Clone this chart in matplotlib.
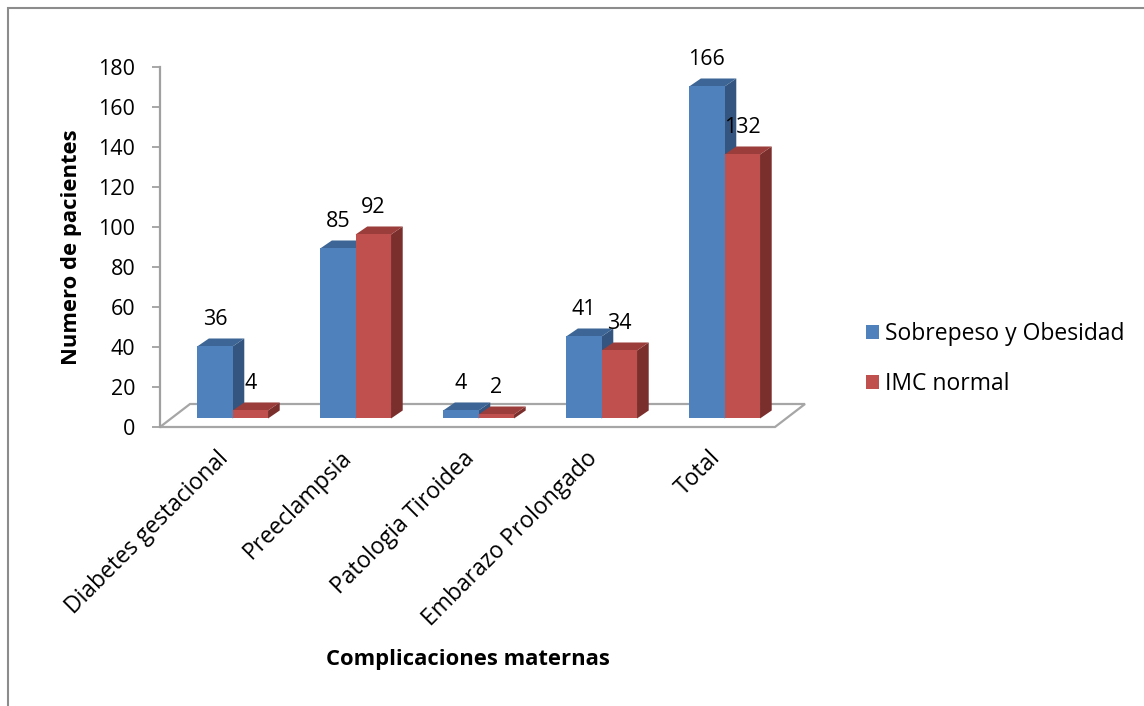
import matplotlib
matplotlib.use("Agg")
import matplotlib.pyplot as plt
from matplotlib.patches import Polygon, Rectangle

# Data
categories = ["Diabetes gestacional", "Preeclampsia", "Patologia Tiroidea",
              "Embarazo Prolongado", "Total"]
sobrepeso_obesidad = [36, 85, 4, 41, 166]
imc_normal = [4, 92, 2, 34, 132]
series_names = ["Sobrepeso y Obesidad", "IMC normal"]
y_ticks = [0, 20, 40, 60, 80, 100, 120, 140, 160, 180]

plt.rcParams['font.family'] = ['Open Sans', 'DejaVu Sans']
FS_NUM = 15.5     # numbers (ticks, value labels)
FS_TXT = 16.5     # words (categories, legend)
FS_TITLE = 15.8   # bold axis titles

W, H, DPI = 1144, 706, 100
fig = plt.figure(figsize=(W / DPI, H / DPI), dpi=DPI)
ax = fig.add_axes([160 / W, 1 - 427 / H, 615 / W, 360 / H])
n = len(categories)
ax.set_xlim(-0.5, n - 0.5)
ax.set_ylim(0, 180)

# pseudo-3D geometry (data units)
FLOOR_DX, FLOOR_DY = 0.244, 11.5      # depth of the floor
F0 = 0.37                             # where the bars sit within the floor depth
BAR_W = 0.288
BAR_DX, BAR_DY = 0.095, 4.0           # depth of each bar

front_colors = ["#4F81BD", "#C0504D"]
top_colors = ["#3D6696", "#9B3D3A"]
side_colors = ["#34557F", "#7B2F2D"]
edge_gray = "#A6A6A6"

# floor
x0, x1 = -0.5, n - 0.5
floor = Polygon([(x0, 0), (x1, 0), (x1 + FLOOR_DX, FLOOR_DY), (x0 + FLOOR_DX, FLOOR_DY)],
                closed=True, facecolor="white", edgecolor=edge_gray, lw=1.6,
                clip_on=False, zorder=1)
ax.add_patch(floor)

base = F0 * FLOOR_DY
shift = F0 * FLOOR_DX
handles = []
for s, values in enumerate([sobrepeso_obesidad, imc_normal]):
    lefts = [i + shift + (s - 1) * BAR_W for i in range(n)]
    for xl, v in zip(lefts, values):
        top = base + v
        side = Polygon([(xl + BAR_W, base), (xl + BAR_W + BAR_DX, base + BAR_DY),
                        (xl + BAR_W + BAR_DX, top + BAR_DY), (xl + BAR_W, top)],
                       closed=True, facecolor=side_colors[s], edgecolor="none",
                       clip_on=False, zorder=2 + 3 * s)
        lid = Polygon([(xl, top), (xl + BAR_W, top), (xl + BAR_W + BAR_DX, top + BAR_DY),
                       (xl + BAR_DX, top + BAR_DY)],
                      closed=True, facecolor=top_colors[s], edgecolor="none",
                      clip_on=False, zorder=3 + 3 * s)
        ax.add_patch(side)
        ax.add_patch(lid)
    bars = ax.bar(lefts, values, width=BAR_W, bottom=base, align="edge",
                  color=front_colors[s], zorder=4 + 3 * s, clip_on=False,
                  label=series_names[s])
    handles.append(bars)
    for xl, v in zip(lefts, values):
        ax.annotate(str(v), xy=(xl + BAR_W / 2, base + v), xytext=(0, 19.5),
                    textcoords="offset points", ha="center", va="center",
                    fontsize=FS_NUM, zorder=20, annotation_clip=False)

# axes styling
for side_name in ["top", "right", "bottom"]:
    ax.spines[side_name].set_visible(False)
ax.spines["left"].set_color("#A0A0A0")
ax.spines["left"].set_linewidth(1.6)
ax.set_yticks(y_ticks)
ax.tick_params(axis="y", direction="out", length=5.8, width=1.3, color="#A0A0A0",
               pad=12, labelsize=FS_NUM)
ax.set_xticks([i + shift - 0.06 for i in range(n)])
ax.set_xticklabels(categories, rotation=45, ha="right", va="center",
                   rotation_mode="anchor", fontsize=FS_TXT)
ax.tick_params(axis="x", length=0, pad=20)
ax.patch.set_visible(False)

ax.set_ylabel("Numero de pacientes", fontsize=FS_TITLE, fontweight="bold", va="center")
ax.yaxis.set_label_coords((72 - 160) / 615, 0.5)
ax.set_xlabel("Complicaciones maternas", fontsize=FS_TITLE, fontweight="bold", va="center")
ax.xaxis.set_label_coords(0.5, (427 - 660) / 360)

ax.legend(handles, series_names, loc="center left",
          bbox_to_anchor=(866 / W, 1 - 359 / H), bbox_transform=fig.transFigure,
          frameon=False, borderpad=0, borderaxespad=0, handlelength=0.55,
          handleheight=0.56, handletextpad=0.3, labelspacing=1.15, fontsize=FS_TXT)

# chart-area border
fig.add_artist(Rectangle((8 / W, -0.1), 1.2, 1.1 - 8 / H, transform=fig.transFigure,
                         fill=False, edgecolor="#8C8C8C", lw=1.5))

fig.savefig("out.png", dpi=DPI)
